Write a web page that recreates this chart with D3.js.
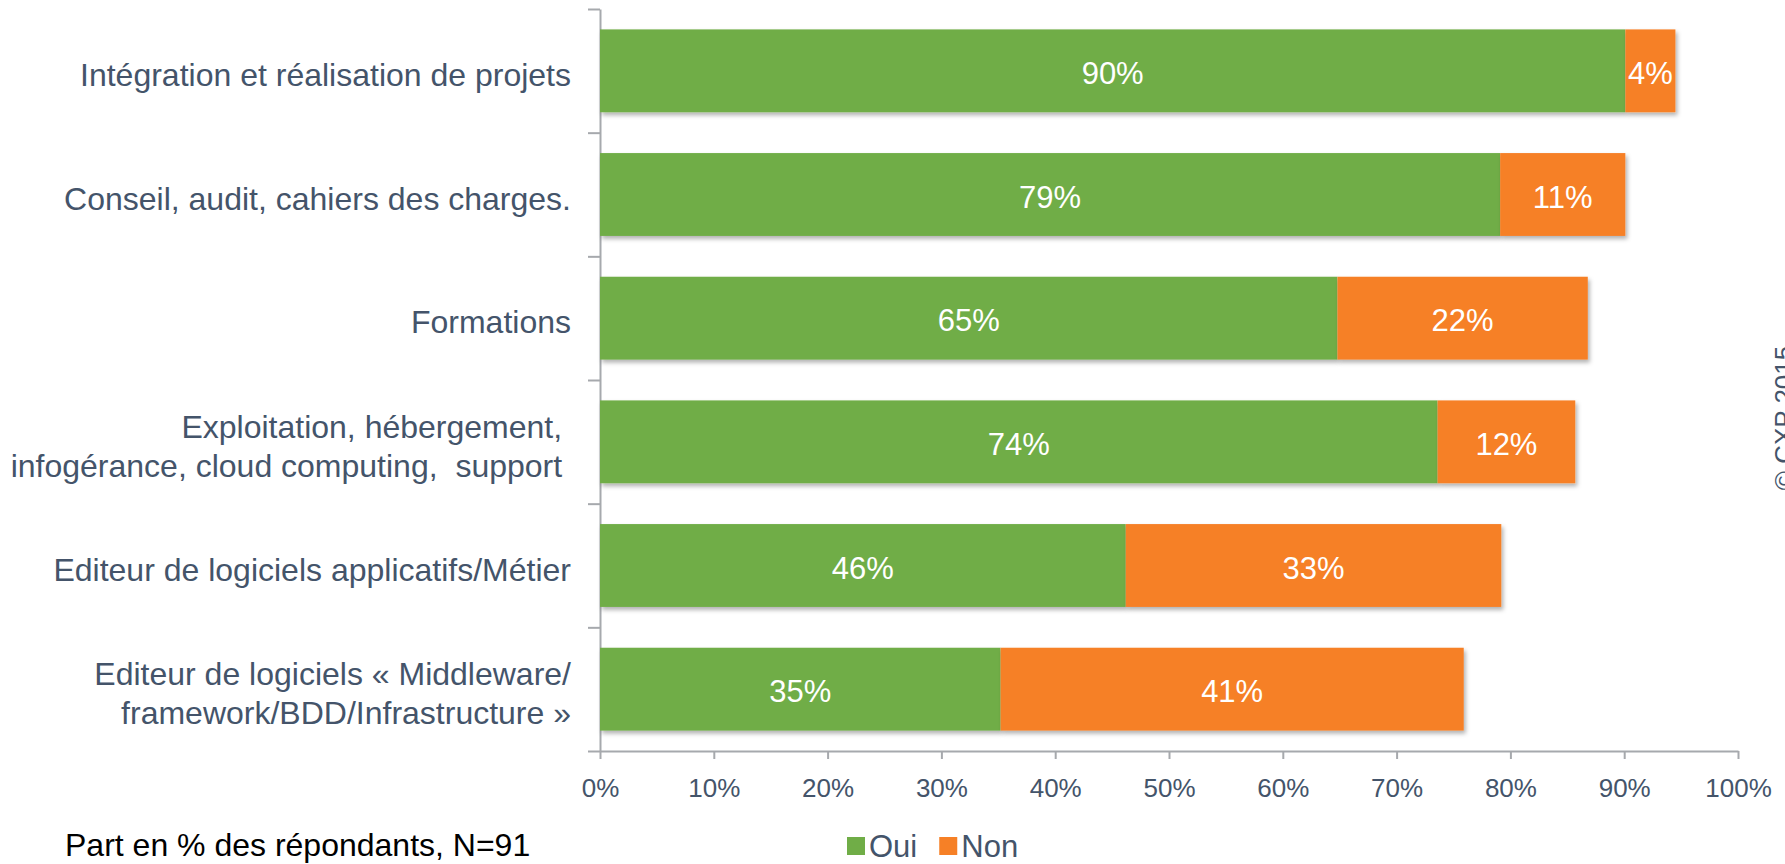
<!DOCTYPE html>
<html>
<head>
<meta charset="utf-8">
<script src="https://cdn.jsdelivr.net/npm/d3@7"></script>
<style>
  body { margin: 0; background: #fff; }
  svg { display: block; font-family: "Liberation Sans", Arial, sans-serif; }
  .tick line, .domain { stroke: #a6a9ad; stroke-width: 2; }
  .x_axis text { fill: #44546a; font-size: 26px; }
  .cat_label { fill: #44546a; font-size: 32px; white-space: pre; }
  .value_label { fill: #fff; font-size: 31px; }
</style>
</head>
<body>
<div id="chart"></div>
<script>
// categories, one entry per bar (each entry = lines of the label)
const categories = [
    ["Intégration et réalisation de projets"],
    ["Conseil, audit, cahiers des charges."],
    ["Formations"],
    ["Exploitation, hébergement, ", "infogérance, cloud computing,  support "],
    ["Editeur de logiciels applicatifs/Métier"],
    ["Editeur de logiciels « Middleware/", "framework/BDD/Infrastructure »"]
]
const oui_values = [90.1, 79.1, 64.8, 73.6, 46.2, 35.2]
const non_values = [4.4, 11.0, 22.0, 12.1, 33.0, 40.7]
const series_names = ["Oui", "Non"]
const series_colors = ["#70ad47", "#f68026"]
const x_ticks = [0, 10, 20, 30, 40, 50, 60, 70, 80, 90, 100]
const footnote = "Part en % des répondants, N=91"
const copyright = "© CXP 2015"

const W = 1785, H = 864
const margin = {top: 9, right: 47, bottom: 113, left: 600}
const width = W - margin.left - margin.right,
    height = H - margin.top - margin.bottom

const svg = d3.select("#chart")
    .append("svg")
    .attr("width", W)
    .attr("height", H)

// soft shadow under the bars
const filter = svg.append("defs").append("filter")
    .attr("id", "shadow")
    .attr("x", "-5%").attr("y", "-10%")
    .attr("width", "120%").attr("height", "140%")
filter.append("feDropShadow")
    .attr("dx", 2).attr("dy", 3)
    .attr("stdDeviation", 2.2)
    .attr("flood-color", "#000")
    .attr("flood-opacity", 0.3)

const g = svg.append("g")
    .attr("transform", "translate(" + margin.left + "," + margin.top + ")")

const x = d3.scaleLinear().domain([0, 100]).range([0, width])
const y = d3.scaleBand()
    .domain(d3.range(categories.length))
    .range([0, height])
    .paddingInner(0.33)
    .paddingOuter(0.165)
// boundaries between categories, for the y axis ticks
const y_edges = d3.scaleLinear().domain([0, categories.length]).range([0, height])

// x axis
g.append("g")
    .attr("class", "x_axis")
    .attr("transform", "translate(0," + height + ")")
    .call(d3.axisBottom(x)
        .tickValues(x_ticks)
        .tickSizeInner(8)
        .tickSizeOuter(0)
        .tickPadding(20)
        .tickFormat(d => d + "%"))

// y axis (ticks only at the category edges)
g.append("g")
    .attr("class", "y_axis")
    .call(d3.axisLeft(y_edges)
        .tickValues(d3.range(categories.length + 1))
        .tickSizeInner(12)
        .tickSizeOuter(0)
        .tickFormat(""))

g.selectAll(".domain").attr("fill", "none")

// stacked bars
const rows = categories.map((c, i) => ({
    i: i,
    parts: [
        {x0: 0, x1: oui_values[i], v: oui_values[i], s: 0},
        {x0: oui_values[i], x1: oui_values[i] + non_values[i], v: non_values[i], s: 1}
    ]
}))

const row = g.selectAll(".row")
    .data(rows)
    .enter()
    .append("g")
    .attr("class", "row")
    .attr("transform", d => "translate(0," + y(d.i) + ")")

row.selectAll("rect")
    .data(d => d.parts)
    .enter()
    .append("rect")
    .attr("x", d => x(d.x0))
    .attr("width", d => x(d.x1) - x(d.x0))
    .attr("y", 0)
    .attr("height", y.bandwidth())
    .attr("fill", d => series_colors[d.s])
    .attr("filter", "url(#shadow)")

row.selectAll(".value_label")
    .data(d => d.parts)
    .enter()
    .append("text")
    .attr("class", "value_label")
    .attr("text-anchor", "middle")
    .attr("x", d => (x(d.x0) + x(d.x1)) / 2)
    .attr("y", y.bandwidth() / 2)
    .attr("dy", "0.42em")
    .text(d => Math.round(d.v) + "%")

// category labels
const line_h = 39
g.selectAll(".cat_label")
    .data(categories)
    .enter()
    .append("text")
    .attr("class", "cat_label")
    .attr("text-anchor", "end")
    .each(function (lines, i) {
        const cy = y(i) + y.bandwidth() / 2 + 4
        const t = d3.select(this)
        lines.forEach((line, k) => {
            t.append("tspan")
                .attr("x", -29)
                .attr("y", cy + (k - (lines.length - 1) / 2) * line_h)
                .attr("dy", "0.35em")
                .text(line)
        })
    })

// legend
const legend = svg.append("g").attr("transform", "translate(847,857)")
let lx = 0
series_names.forEach((name, i) => {
    legend.append("rect")
        .attr("x", lx)
        .attr("y", -20)
        .attr("width", 18)
        .attr("height", 18)
        .attr("fill", series_colors[i])
    const t = legend.append("text")
        .attr("x", lx + 22)
        .attr("y", 0)
        .style("font-size", "31px")
        .style("fill", "#44546a")
        .text(name)
    lx += 22 + t.node().getComputedTextLength() + 22
})

// footnote
svg.append("text")
    .attr("x", 65)
    .attr("y", 856)
    .style("font-size", "32px")
    .style("fill", "#000")
    .text(footnote)

// copyright, rotated along the right edge
svg.append("text")
    .attr("transform", "translate(1793,418) rotate(-90)")
    .attr("text-anchor", "middle")
    .style("font-size", "26px")
    .style("fill", "#44546a")
    .text(copyright)
</script>
</body>
</html>
